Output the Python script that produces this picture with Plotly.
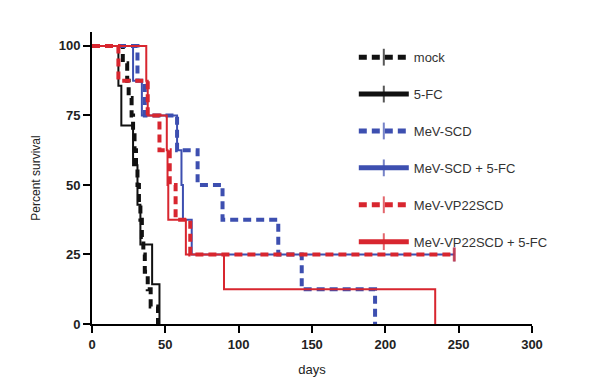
import plotly.graph_objects as go

# ---- data (days, percent survival); cens=1 marks a censored tick ----
mock_days = [0, 21, 24, 25, 27, 28, 29, 30, 31, 32, 33, 34, 35, 36, 38, 40, 45]
mock_surv = [100, 93.75, 87.5, 81.25, 75, 68.75, 62.5, 56.25, 50, 43.75, 37.5, 31.25, 25, 18.75, 12.5, 6.25, 0]
mock_cens = [0, 0, 0, 0, 0, 0, 0, 0, 0, 0, 0, 0, 0, 0, 0, 0, 0]

fc_days = [0, 18, 20, 28, 31, 33, 41, 46]
fc_surv = [100, 85.7, 71.4, 57.1, 42.9, 28.6, 14.3, 0]
fc_cens = [0, 0, 0, 0, 0, 0, 0, 0]

scd_days = [0, 31, 36, 58, 72, 89, 127, 143, 193]
scd_surv = [100, 87.5, 75, 62.5, 50, 37.5, 25, 12.5, 0]
scd_cens = [0, 0, 0, 0, 0, 0, 0, 0, 0]

scdfc_days = [0, 28, 34, 58, 61, 62, 68, 247]
scdfc_surv = [100, 87.5, 75, 62.5, 50, 37.5, 25, 25]
scdfc_cens = [0, 0, 0, 0, 0, 0, 0, 1]

vp_days = [0, 18, 38, 46, 53, 57, 67, 247]
vp_surv = [100, 87.5, 75, 62.5, 50, 37.5, 25, 25]
vp_cens = [0, 0, 0, 0, 0, 0, 0, 1]

vpfc_days = [0, 37, 38, 51, 51.5, 52, 64, 90, 234]
vpfc_surv = [100, 87.5, 75, 62.5, 50, 37.5, 25, 12.5, 0]
vpfc_cens = [0, 0, 0, 0, 0, 0, 0, 0, 0]

names = ["mock", "5-FC", "MeV-SCD", "MeV-SCD + 5-FC", "MeV-VP22SCD", "MeV-VP22SCD + 5-FC"]
x_ticks = [0, 50, 100, 150, 200, 250, 300]
y_ticks = [0, 25, 50, 75, 100]

BLACK = "#111111"
BLUE = "#3d4fb0"
RED = "#d8262f"

series = [
    (mock_days, mock_surv, mock_cens, BLACK, True),
    (fc_days, fc_surv, fc_cens, BLACK, False),
    (scd_days, scd_surv, scd_cens, BLUE, True),
    (scdfc_days, scdfc_surv, scdfc_cens, BLUE, False),
    (vp_days, vp_surv, vp_cens, RED, True),
    (vpfc_days, vpfc_surv, vpfc_cens, RED, False),
]

fig = go.Figure()
for name, (d, s, c, col, dashed) in zip(names, series):
    fig.add_trace(go.Scatter(
        x=d, y=s, name=name, legendgroup=name,
        mode="lines+markers",
        line=dict(shape="hv", color=col, width=4 if dashed else 2,
                  dash="8px,5px" if dashed else "solid"),
        marker=dict(symbol="line-ns", size=[10 if v else 0.01 for v in c],
                    color=col, line=dict(color=col, width=3 if dashed else 2)),
        cliponaxis=False,
    ))

fig.update_layout(
    width=600, height=379,
    margin=dict(l=92, r=68, t=32, b=55),
    paper_bgcolor="white", plot_bgcolor="white",
    font=dict(family="Liberation Sans, Arial, sans-serif", color="#222222"),
    showlegend=True,
    legend=dict(x=0.595, y=0.965, xanchor="left", yanchor="top",
                font=dict(size=13, color="#333333"),
                itemwidth=50, itemsizing="constant",
                tracegroupgap=17, bgcolor="rgba(0,0,0,0)"),
)
fig.update_xaxes(
    range=[0, 300], tickvals=x_ticks, ticktext=[str(v) for v in x_ticks],
    showgrid=False, zeroline=False, automargin=False,
    showline=True, linecolor="black", linewidth=2,
    ticks="outside", ticklen=7, tickwidth=2, tickcolor="black",
    tickfont=dict(size=13, weight="bold", color="#222222"),
    title=dict(text="days", font=dict(size=13), standoff=14),
)
fig.update_yaxes(
    range=[0, 105], tickvals=y_ticks, ticktext=[str(v) for v in y_ticks],
    showgrid=False, zeroline=False, automargin=False,
    showline=True, linecolor="black", linewidth=2,
    ticks="outside", ticklen=7, tickwidth=2, tickcolor="black",
    tickfont=dict(size=13, weight="bold", color="#222222"),
    title=dict(text="Percent survival", font=dict(size=12), standoff=15),
)

fig.write_html("out.html", config={"displayModeBar": False},
               post_script="document.body.style.margin='0';")
